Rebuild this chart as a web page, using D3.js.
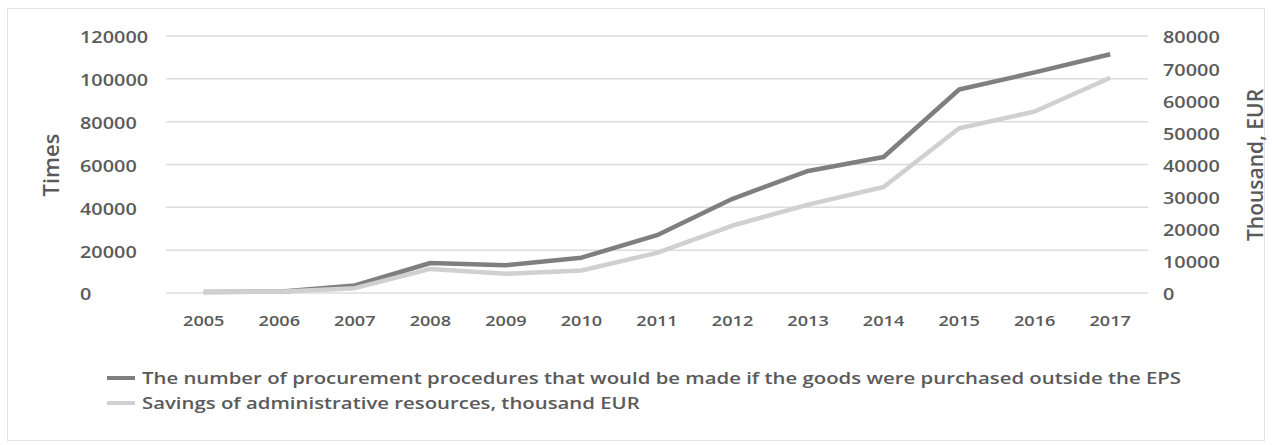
<!DOCTYPE html>
<html>
<head>
<meta charset="utf-8">
<script src="https://cdn.jsdelivr.net/npm/d3@7"></script>
<style>
  html, body { margin: 0; padding: 0; background: #fff; }
  svg text { font-family: "Open Sans", "DejaVu Sans", sans-serif; fill: #5a5a5a; font-weight: 600; }
</style>
</head>
<body>
<svg id="chart" width="1272" height="445"></svg>
<script>
// Years on the category axis
const years = ["2005","2006","2007","2008","2009","2010","2011","2012","2013","2014","2015","2016","2017"];
// Procurement procedures that would be made outside the EPS (left axis, times)
const procedures = [500, 600, 3500, 14000, 13000, 16500, 27000, 44000, 57000, 63500, 95000, 103000, 111500];
// Savings of administrative resources (right axis, thousand EUR)
const savings = [300, 400, 1500, 7500, 6000, 7000, 12500, 21000, 27500, 33000, 51300, 56500, 67000];
// Axis ticks
const leftTicks = [0, 20000, 40000, 60000, 80000, 100000, 120000];
const rightTicks = [0, 10000, 20000, 30000, 40000, 50000, 60000, 70000, 80000];
// Series names
const seriesNames = [
  "The number of procurement procedures that would be made if the goods were purchased outside the EPS",
  "Savings of administrative resources, thousand EUR"
];

const svg = d3.select("#chart");

// Stretch labels horizontally to a wider set width
function widen(sel, sx) {
  sel.each(function () {
    const w = this.getComputedTextLength();
    d3.select(this).attr("textLength", w * sx).attr("lengthAdjust", "spacingAndGlyphs");
  });
  return sel;
}

const plot = { left: 166, right: 1148, top: 36, bottom: 293 };

const x = d3.scalePoint().domain(years).range([plot.left, plot.right]).padding(0.5);
const yL = d3.scaleLinear().domain([0, 120000]).range([plot.bottom, plot.top]);
const yR = d3.scaleLinear().domain([0, 80000]).range([plot.bottom, plot.top]);

// Chart-area border
svg.append("rect")
  .attr("x", 7.5).attr("y", 8.5).attr("width", 1257).attr("height", 432)
  .attr("fill", "none").attr("stroke", "#e3e3e3").attr("stroke-width", 1);

// Gridlines
svg.append("g").selectAll("line").data(leftTicks).join("line")
  .attr("x1", plot.left).attr("x2", plot.right)
  .attr("y1", d => yL(d)).attr("y2", d => yL(d))
  .attr("stroke", "#dcdcdc").attr("stroke-width", 1.5);

// Left axis labels
widen(svg.append("g").selectAll("text").data(leftTicks).join("text")
  .attr("x", 80).attr("y", d => yL(d) + 2)
  .attr("dy", "0.35em").attr("font-size", 15.5)
  .text(d => d), 1.28);

// Right axis labels
widen(svg.append("g").selectAll("text").data(rightTicks).join("text")
  .attr("x", 1163).attr("y", d => yR(d) + 2)
  .attr("dy", "0.35em").attr("font-size", 15.5)
  .text(d => d), 1.28);

// Category labels
widen(svg.append("g").selectAll("text").data(years).join("text")
  .attr("x", d => x(d)).attr("y", 321)
  .attr("dy", "0.35em").attr("text-anchor", "middle").attr("font-size", 14.5)
  .text(d => d), 1.25);

// Axis titles
svg.append("text")
  .attr("transform", "translate(51,165) rotate(-90)")
  .attr("text-anchor", "middle").attr("dy", "0.35em").attr("font-size", 22)
  .attr("font-weight", 500)
  .text("Times");
svg.append("text")
  .attr("transform", "translate(1256,165) rotate(-90)")
  .attr("text-anchor", "middle").attr("dy", "0.35em").attr("font-size", 21)
  .attr("font-weight", 500)
  .text("Thousand, EUR");

// Series lines
const lineL = d3.line().x((d, i) => x(years[i])).y(d => yL(d));
const lineR = d3.line().x((d, i) => x(years[i])).y(d => yR(d));

svg.append("path").datum(procedures)
  .attr("d", lineL).attr("fill", "none")
  .attr("stroke", "#7f7f7f").attr("stroke-width", 4.5).attr("stroke-linejoin", "round");
svg.append("path").datum(savings)
  .attr("d", lineR).attr("fill", "none")
  .attr("stroke", "#d0d0d0").attr("stroke-width", 4.5).attr("stroke-linejoin", "round");

// Legend
const legendColors = ["#7f7f7f", "#d0d0d0"];
const legend = svg.append("g").selectAll("g").data(seriesNames).join("g")
  .attr("transform", (d, i) => `translate(107,${378 + i * 25})`);
legend.append("line")
  .attr("x1", 0).attr("x2", 28).attr("y1", 0).attr("y2", 0)
  .attr("stroke", (d, i) => legendColors[i]).attr("stroke-width", 4);
const legendText = legend.append("text")
  .attr("x", 35).attr("y", 1).attr("dy", "0.35em").attr("font-size", 15.5)
  .text(d => d);
// the longest name fills the legend block; both names share its stretch
const legendSx = 1039 / legendText.nodes()[0].getComputedTextLength();
widen(legendText, legendSx);
</script>
</body>
</html>
